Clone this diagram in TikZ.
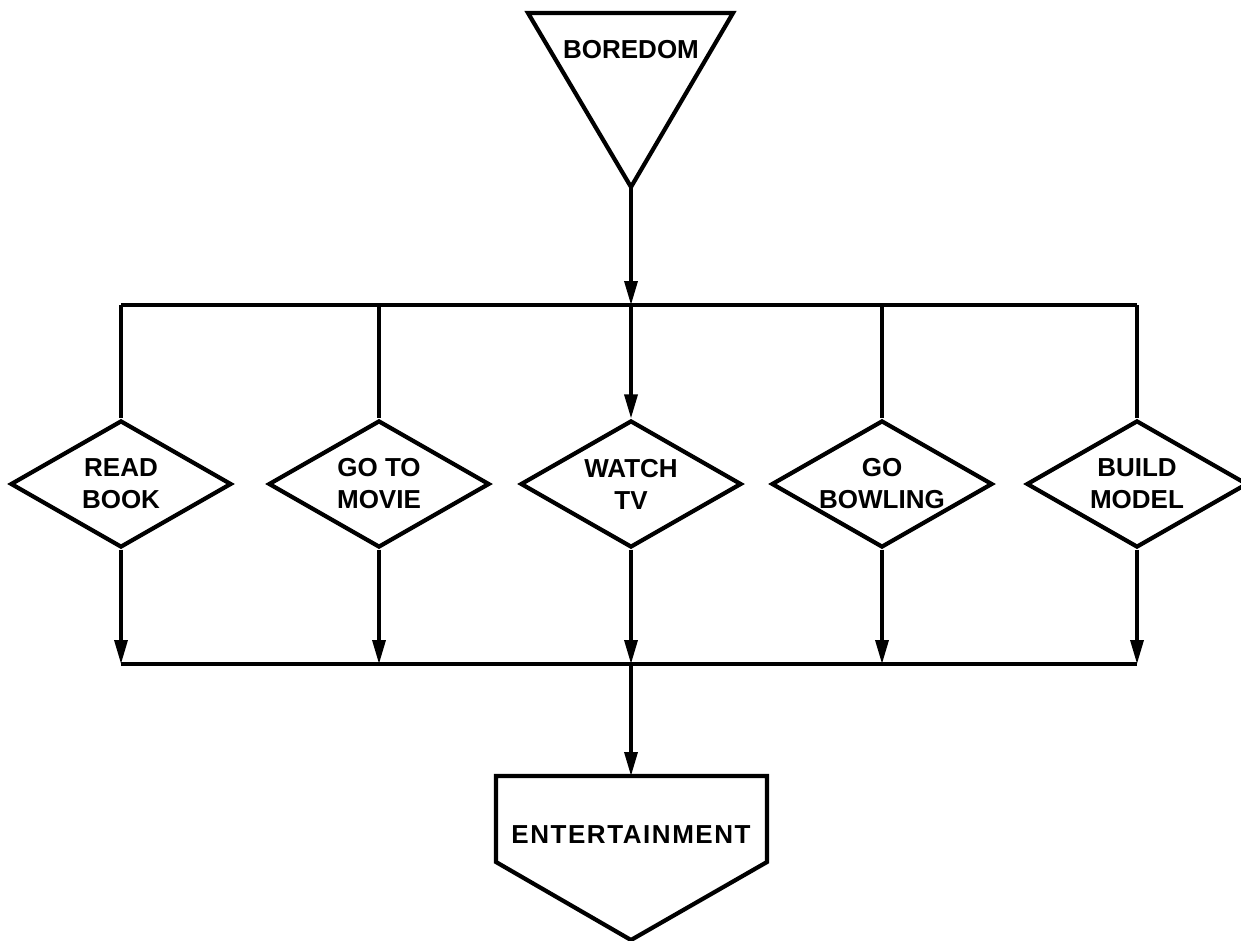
\documentclass[tikz,border=0pt]{standalone}
\usepackage{fontspec}
\setmainfont{Liberation Sans}
\usetikzlibrary{shapes.geometric,arrows.meta}
\begin{document}
\begin{tikzpicture}[x=1pt,y=-1pt,
  shapeline/.style={line width=4.2pt, line join=miter},
  conn/.style={line width=3.4pt},
  arr/.style={conn, -{Triangle[length=24pt,width=13pt]}},
  lbl/.style={font=\fontsize{26}{32}\selectfont\bfseries, align=center, inner sep=0pt},
  dia/.style={diamond, draw, shapeline, aspect=1.75, minimum width=221pt, minimum height=127pt, inner sep=0pt, lbl}]
\fill[white] (0,0) rectangle (1241,941);
\useasboundingbox (0,0) rectangle (1241,941);

% BOREDOM triangle
\coordinate (btl) at (528,13);
\coordinate (btr) at (733,13);
\coordinate (bapex) at (631,187);
\draw[shapeline] (btl) -- (btr) -- (bapex) -- cycle;
\node[lbl] (boredom) at (631,50) {BOREDOM};

% diamonds
\node[dia] (read)  at (121,484) {READ\\BOOK};
\node[dia] (movie) at (379,484) {GO TO\\MOVIE};
\node[dia] (watch) at (631,484) {WATCH\\TV};
\node[dia] (bowl)  at (882,484) {GO\\BOWLING};
\node[dia] (build) at (1137,484) {BUILD\\MODEL};

% top bus
\coordinate (t1) at (121,305);
\coordinate (t2) at (379,305);
\coordinate (t3) at (631,305);
\coordinate (t4) at (882,305);
\coordinate (t5) at (1137,305);
\draw[conn] (t1) -- (t5);
\draw[arr] (bapex) -- (t3);
\draw[conn] (t1) -- (read.north);
\draw[conn] (t2) -- (movie.north);
\draw[arr] (t3) -- (watch.north);
\draw[conn] (t4) -- (bowl.north);
\draw[conn] (t5) -- (build.north);

% bottom bus
\coordinate (b1) at (121,664);
\coordinate (b2) at (379,664);
\coordinate (b3) at (631,664);
\coordinate (b4) at (882,664);
\coordinate (b5) at (1137,664);
\draw[conn] (b1) -- (b5);
\draw[arr] (read.south) -- (b1);
\draw[arr] (movie.south) -- (b2);
\draw[arr] (watch.south) -- (b3);
\draw[arr] (bowl.south) -- (b4);
\draw[arr] (build.south) -- (b5);

% ENTERTAINMENT pentagon
\coordinate (etl) at (496,776);
\coordinate (etr) at (767,776);
\coordinate (er) at (767,862);
\coordinate (eapex) at (631,940);
\coordinate (el) at (496,862);
\coordinate (enttop) at (631,776);
\draw[shapeline] (etl) -- (etr) -- (er) -- (eapex) -- (el) -- cycle;
\node[lbl] (ent) at (631,835) {\addfontfeature{LetterSpace=6}ENTERTAINMENT};
\draw[arr] (b3) -- (enttop);
\end{tikzpicture}
\end{document}
